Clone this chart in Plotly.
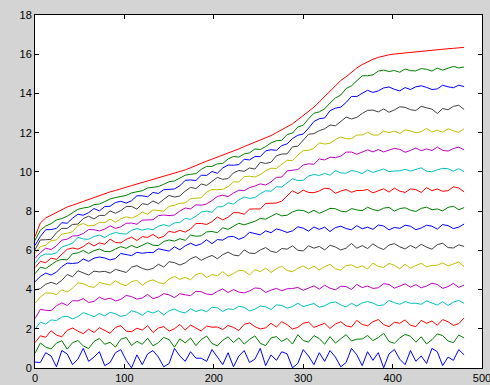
import plotly.graph_objects as go

# sample positions (x) shared by every series
x_vals = list(range(0, 481, 6))

# series, bottom to top
s00 = [0.30,0.28,0.78,0.61,0.06,0.89,0.72,0.17,0.45,1.00,0.34,0.56,0.83,0.12,0.28,0.78,0.94,0.39,0.01,0.67,
       0.17,0.72,0.89,0.56,0.06,0.23,1.00,0.61,0.34,0.83,0.50,
       0.50,0.34,0.94,0.56,0.17,0.78,0.06,0.61,0.89,0.28,0.45,1.00,0.12,0.67,0.39,0.83,0.72,0.01,0.23,0.94,
       0.61,0.17,0.78,0.34,0.89,0.56,0.06,0.28,1.00,0.67,0.12,0.83,0.39,0.78,0.01,0.72,0.94,0.45,0.17,0.89,
       0.34,0.61,0.23,1.00,0.83,0.12,0.56,0.39,0.94,0.67]
s01 = [0.76,1.27,1.07,0.97,1.27,1.39,0.96,1.29,1.40,1.13,0.99,1.35,1.51,1.21,1.31,1.07,1.47,1.56,1.15,1.36,
       1.21,1.52,1.13,1.29,1.56,1.45,1.06,1.49,1.28,1.53,1.14,1.45,1.63,1.25,1.13,1.41,1.59,1.30,1.54,1.22,
       1.46,1.64,1.26,1.14,1.53,1.60,1.36,1.51,1.22,1.70,1.40,1.32,1.65,1.50,1.21,1.60,1.27,1.49,1.70,1.38,
       1.47,1.48,1.66,1.40,1.55,1.77,1.35,1.26,1.53,1.71,1.62,1.32,1.59,1.23,1.44,1.74,1.65,1.38,1.29,1.68,
       1.53]
s02 = [1.29,1.64,1.57,1.90,1.68,1.59,1.92,2.04,1.88,1.75,1.98,1.81,2.06,1.90,1.77,2.07,2.16,1.88,1.85,2.03,
       1.93,2.16,1.81,2.04,2.11,1.88,2.00,2.22,1.94,2.19,2.04,1.89,2.14,2.08,2.09,1.96,2.17,2.07,1.91,2.23,
       2.30,2.11,1.99,2.05,2.28,2.09,2.36,2.21,1.99,2.07,2.28,2.34,2.07,2.19,2.28,2.02,2.24,2.36,2.15,2.09,
       2.43,2.22,2.15,2.36,2.47,2.21,2.11,2.33,2.28,2.45,2.18,2.11,2.43,2.28,2.40,2.18,2.47,2.36,2.17,2.26,
       2.55]
s03 = [1.98,2.34,2.24,2.45,2.42,2.60,2.64,2.50,2.62,2.82,2.73,2.61,2.78,2.66,2.84,2.76,2.63,2.70,2.92,2.84,
       2.69,2.90,2.80,2.92,2.71,2.92,3.00,2.87,2.81,3.02,2.88,2.97,2.87,3.10,3.07,2.88,3.02,2.98,3.15,3.09,
       2.91,3.00,3.16,3.12,2.98,3.22,3.19,3.05,3.13,3.30,3.13,3.21,3.29,3.10,3.17,3.32,3.37,3.22,3.11,3.30,
       3.16,3.32,3.39,3.31,3.18,3.22,3.44,3.33,3.25,3.39,3.30,3.30,3.25,3.42,3.32,3.21,3.38,3.19,3.36,3.45,
       3.29]
s04 = [2.52,2.99,2.94,2.93,3.17,3.32,3.19,3.43,3.42,3.54,3.34,3.40,3.61,3.49,3.56,3.42,3.50,3.70,3.64,3.51,
       3.57,3.75,3.54,3.62,3.79,3.73,3.59,3.79,3.73,3.69,3.91,3.89,3.77,3.74,3.91,4.03,3.85,4.00,3.87,3.83,
       3.93,4.08,4.06,3.85,3.97,4.06,3.94,4.04,4.05,4.11,3.96,4.07,4.19,4.02,4.22,4.07,3.99,4.17,4.15,4.00,
       4.26,4.10,4.18,4.06,4.09,4.30,4.26,4.07,4.17,4.29,4.12,4.25,4.09,4.18,4.32,4.26,4.06,4.15,4.31,4.11,
       4.23]
s05 = [3.31,3.62,3.83,3.82,3.74,3.99,3.87,4.07,4.34,4.30,4.16,4.11,4.36,4.28,4.23,4.45,4.28,4.20,4.40,4.47,
       4.21,4.42,4.49,4.36,4.29,4.54,4.67,4.52,4.62,4.50,4.76,4.84,4.61,4.77,4.70,4.91,4.69,4.81,4.99,4.95,
       4.74,5.02,4.91,5.09,4.87,5.06,5.19,4.97,4.91,5.08,5.21,5.04,5.19,5.00,5.17,5.28,5.06,4.99,5.22,5.26,
       5.11,5.21,5.05,5.35,5.18,5.13,5.33,5.24,5.06,5.29,5.09,5.22,5.34,5.16,5.23,5.24,5.36,5.20,5.29,5.41,
       5.16]
s06 = [3.98,4.05,4.27,4.37,4.27,4.47,4.77,4.65,4.96,4.84,4.74,4.94,4.90,4.93,4.84,5.03,4.96,4.87,5.14,5.22,
       5.08,5.00,5.08,5.29,5.15,5.42,5.37,5.25,5.36,5.57,5.68,5.49,5.63,5.74,5.57,5.78,5.91,5.76,5.72,6.02,
       5.86,5.84,6.02,6.14,5.95,5.89,6.09,6.06,6.23,6.00,5.97,6.23,6.11,6.20,6.02,6.26,6.17,6.02,6.11,6.35,
       6.11,6.24,6.09,6.33,6.15,6.04,6.27,6.34,6.18,6.07,6.25,6.11,6.31,6.16,6.06,6.29,6.36,6.14,6.12,6.28,
       6.20]
s07 = [4.40,4.67,4.84,4.74,4.89,5.17,5.35,5.33,5.36,5.56,5.44,5.60,5.66,5.61,5.51,5.58,5.84,5.77,5.73,5.90,
       5.85,5.89,5.88,6.08,6.02,5.96,6.18,6.03,6.23,6.36,6.24,6.33,6.54,6.34,6.55,6.52,6.69,6.71,6.56,6.67,
       6.92,6.87,6.79,6.99,6.90,7.09,7.02,6.91,6.99,7.20,7.13,6.98,7.19,7.07,7.18,6.96,7.16,7.23,7.11,7.05,
       7.26,7.10,7.18,7.07,7.29,7.24,7.04,7.17,7.12,7.28,7.23,7.05,7.14,7.28,7.23,7.08,7.31,7.26,7.11,7.18,
       7.34]
s08 = [4.81,5.14,5.07,5.24,5.45,5.54,5.51,5.83,5.87,5.99,5.84,5.98,6.07,5.94,5.93,6.07,6.19,6.10,6.25,6.13,
       6.28,6.39,6.26,6.24,6.45,6.53,6.47,6.59,6.51,6.78,6.72,6.74,6.94,6.96,6.90,7.15,7.07,7.22,7.38,7.30,
       7.40,7.48,7.63,7.59,7.73,7.88,7.76,7.79,7.96,8.05,8.03,7.91,8.04,7.89,8.00,8.14,8.12,8.00,7.96,8.13,
       8.06,8.02,8.20,8.08,8.02,8.15,8.19,8.00,8.13,8.17,8.05,7.98,8.14,8.20,8.07,8.11,8.01,8.19,8.25,8.07,
       8.18]
s09 = [5.12,5.44,5.37,5.60,5.54,5.77,6.05,6.12,6.06,6.19,6.39,6.22,6.38,6.31,6.57,6.40,6.38,6.56,6.67,6.50,
       6.70,6.66,6.81,6.62,6.71,6.97,6.91,7.02,6.93,7.09,7.37,7.37,7.32,7.46,7.70,7.55,7.69,7.92,7.92,7.84,
       8.10,8.11,8.11,8.39,8.41,8.41,8.51,8.79,9.04,8.89,9.07,8.95,8.94,9.03,9.17,9.13,8.91,9.02,9.10,8.96,
       9.05,9.05,9.10,8.93,9.03,9.14,8.97,9.17,9.02,8.95,9.13,9.10,8.95,9.20,9.04,9.13,9.01,9.04,9.24,9.18,
       8.98]
s10 = [5.33,5.70,5.81,5.80,5.87,6.17,6.26,6.36,6.66,6.58,6.56,6.71,6.78,6.65,6.82,6.91,6.85,6.83,7.02,7.11,
       7.03,7.10,7.05,7.23,7.31,7.23,7.40,7.42,7.63,7.58,7.74,7.95,8.00,7.94,8.21,8.23,8.42,8.36,8.57,8.72,
       8.65,8.69,8.89,9.04,9.01,9.24,9.23,9.45,9.65,9.55,9.57,9.79,9.87,9.82,9.92,9.83,10.06,9.95,9.93,10.07,
       10.02,9.91,10.09,9.97,10.06,10.15,10.01,10.05,10.05,10.13,10.04,10.11,10.21,10.04,10.00,10.11,10.18,10.16,10.04,10.16,
       10.01]
s11 = [5.59,5.88,6.11,6.04,6.23,6.52,6.57,6.73,6.75,6.86,7.06,7.05,6.99,7.08,7.25,7.12,7.20,7.38,7.39,7.33,
       7.54,7.55,7.56,7.77,7.80,7.77,7.80,8.00,8.16,8.11,8.32,8.30,8.37,8.54,8.75,8.81,8.74,8.92,9.07,9.04,
       9.20,9.28,9.39,9.33,9.49,9.72,9.74,10.05,10.08,10.12,10.35,10.41,10.39,10.66,10.61,10.75,10.73,10.80,11.01,11.01,
       10.90,11.01,11.12,11.02,11.14,11.02,11.09,11.20,11.15,11.00,11.09,11.22,11.08,11.17,11.09,11.26,11.10,11.06,11.19,11.26,
       11.12]
s12 = [5.85,6.19,6.26,6.49,6.53,6.83,6.87,6.95,7.27,7.37,7.25,7.27,7.43,7.41,7.59,7.43,7.61,7.71,7.64,7.76,
       7.95,7.84,8.06,8.03,8.00,8.24,8.30,8.40,8.42,8.64,8.67,8.68,8.97,9.10,9.09,9.11,9.25,9.49,9.49,9.76,
       9.78,9.74,9.86,10.06,10.19,10.17,10.39,10.59,10.58,10.86,11.08,11.10,11.21,11.48,11.42,11.46,11.65,11.78,11.69,11.69,
       11.88,11.88,12.02,11.88,11.88,12.08,12.00,12.08,11.96,12.14,12.09,11.99,12.05,12.22,12.03,12.13,12.02,12.20,12.09,12.02,
       12.20]
s13 = [6.03,6.53,6.54,6.56,6.90,7.12,7.12,7.32,7.34,7.62,7.74,7.60,7.78,7.78,8.01,7.89,8.03,8.23,8.24,8.10,
       8.38,8.33,8.52,8.38,8.60,8.80,8.72,8.77,9.02,9.21,9.15,9.38,9.31,9.53,9.72,9.62,9.66,9.95,10.07,10.03,
       10.20,10.14,10.49,10.43,10.49,10.82,10.91,10.92,11.28,11.31,11.62,11.92,11.95,12.10,12.20,12.39,12.35,12.56,12.79,12.70,
       12.78,12.98,13.14,13.15,13.06,13.21,13.04,13.16,13.32,13.29,13.17,13.13,13.34,13.27,13.20,12.98,13.23,13.17,13.34,13.40,
       13.18]
s14 = [6.25,6.71,7.05,7.06,7.12,7.41,7.38,7.64,7.84,7.79,7.92,8.13,8.01,8.23,8.25,8.44,8.50,8.41,8.53,8.78,
       8.78,8.73,8.95,8.90,9.09,9.12,9.13,9.29,9.57,9.59,9.56,9.83,9.82,10.02,9.93,10.20,10.35,10.34,10.37,10.64,
       10.61,10.78,10.78,11.07,11.13,11.10,11.34,11.43,11.70,11.87,11.93,12.23,12.57,12.71,12.75,13.12,13.25,13.30,13.54,13.85,
       13.84,14.01,14.16,14.05,14.13,14.28,14.33,14.21,14.13,14.30,14.20,14.34,14.39,14.31,14.20,14.23,14.42,14.34,14.29,14.42,
       14.35]
s15 = [6.50,7.03,7.24,7.36,7.55,7.62,7.74,7.92,8.09,8.16,8.20,8.33,8.36,8.48,8.62,8.69,8.73,8.80,8.93,8.99,
       9.04,9.18,9.20,9.25,9.37,9.50,9.54,9.70,9.83,9.88,9.91,10.13,10.28,10.28,10.41,10.43,10.66,10.79,10.75,10.92,
       10.97,11.17,11.14,11.29,11.48,11.59,11.61,11.90,11.98,12.29,12.38,12.71,12.99,13.06,13.22,13.51,13.77,13.92,14.25,14.39,
       14.67,14.90,14.90,14.95,15.14,15.19,15.12,15.17,15.08,15.25,15.16,15.15,15.27,15.23,15.14,15.29,15.19,15.29,15.38,15.30,
       15.35]
s16 = [6.70,7.40,7.65,7.80,7.95,8.07,8.21,8.30,8.40,8.50,8.60,8.70,8.80,8.89,8.98,9.05,9.15,9.22,9.30,9.38,
       9.45,9.53,9.60,9.68,9.75,9.83,9.92,10.01,10.10,10.21,10.33,10.46,10.55,10.65,10.75,10.85,10.95,11.06,11.17,11.29,
       11.40,11.51,11.60,11.74,11.85,12.00,12.15,12.33,12.45,12.66,12.87,13.09,13.30,13.57,13.83,14.12,14.40,14.66,14.85,15.07,
       15.30,15.47,15.62,15.74,15.84,15.92,15.97,16.01,16.04,16.07,16.10,16.12,16.15,16.19,16.20,16.22,16.25,16.28,16.30,16.33,
       16.35]

series = [s00, s01, s02, s03, s04, s05, s06, s07, s08, s09, s10, s11, s12, s13, s14, s15, s16]
color_cycle = ["#0000ff", "#008000", "#ff0000", "#00bfbf", "#bf00bf", "#bfbf00", "#404040"]

x_ticks = [0, 100, 200, 300, 400, 500]
y_ticks = [0, 2, 4, 6, 8, 10, 12, 14, 16, 18]

fig = go.Figure()
for i, ys in enumerate(series):
    fig.add_trace(go.Scatter(
        x=x_vals[:len(ys)], y=ys, mode="lines",
        line=dict(color=color_cycle[i % 7], width=1),
        hoverinfo="skip", showlegend=False,
    ))

axis_common = dict(
    showgrid=False, zeroline=False, showline=True, linecolor="black", linewidth=1,
    mirror="ticks", ticks="inside", ticklen=4, tickcolor="black", tickwidth=1,
    automargin=False, ticklabeloverflow="allow",
    tickfont=dict(family="Liberation Sans, Arial, sans-serif", size=11, color="black"),
)
fig.update_xaxes(range=[0, 500], tickvals=x_ticks, ticktext=[str(v) for v in x_ticks], **axis_common)
fig.update_yaxes(range=[0, 18], tickvals=y_ticks, ticktext=[str(v) for v in y_ticks], **axis_common)

fig.update_layout(
    width=490, height=385,
    margin=dict(l=35, r=8, t=15, b=17, pad=0),
    paper_bgcolor="#d4d4d4", plot_bgcolor="white",
    showlegend=False,
)
fig.write_html(
    "out.html",
    config={"displayModeBar": False},
    post_script="document.body.style.margin='0';document.body.style.background='#d4d4d4';",
)
